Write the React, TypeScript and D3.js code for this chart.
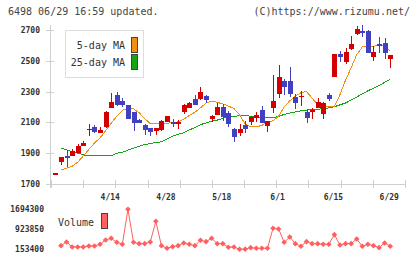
import React from 'react';
import * as d3 from 'd3';

// trading days, 2020-03-31 .. 2020-06-29
const dates = [
  '3/31', '4/1', '4/2', '4/3', '4/6', '4/7', '4/8', '4/9', '4/10', '4/13',
  '4/14', '4/15', '4/16', '4/17', '4/20', '4/21', '4/22', '4/23', '4/24', '4/27',
  '4/28', '4/30', '5/1', '5/7', '5/8', '5/11', '5/12', '5/13', '5/14', '5/15',
  '5/18', '5/19', '5/20', '5/21', '5/22', '5/25', '5/26', '5/27', '5/28', '5/29',
  '6/1', '6/2', '6/3', '6/4', '6/5', '6/8', '6/9', '6/10', '6/11', '6/12',
  '6/15', '6/16', '6/17', '6/18', '6/19', '6/22', '6/23', '6/24', '6/25', '6/26',
  '6/29',
];

const open = [
  1771, 1845, 1882, 1880, 1903, 1949, 2055, 2070, 2033, 2072,
  2196, 2278, 2239, 2213, 2166, 2115, 2080, 2062, 2046, 2051,
  2105, 2100, 2097, 2170, 2196, 2252, 2252, 2274, 2124, 2148,
  2200, 2159, 2057, 2033, 2083, 2105, 2130, 2181, 2079, 2191,
  2282, 2369, 2369, 2265, 2268, 2166, 2172, 2191, 2157, 2278,
  2397, 2544, 2494, 2577, 2674, 2695, 2694, 2527, 2609, 2616,
  2514,
];
const high = [
  1771, 1875, 1920, 1925, 1960, 1981, 2090, 2083, 2072, 2175,
  2290, 2300, 2256, 2215, 2170, 2120, 2090, 2065, 2062, 2116,
  2142, 2120, 2116, 2221, 2230, 2278, 2332, 2280, 2150, 2224,
  2217, 2172, 2066, 2090, 2109, 2140, 2166, 2207, 2110, 2408,
  2473, 2382, 2460, 2282, 2304, 2187, 2196, 2256, 2235, 2291,
  2544, 2564, 2581, 2661, 2726, 2732, 2700, 2596, 2652, 2646,
  2538,
];
const low = [
  1771, 1823, 1810, 1880, 1903, 1949, 2010, 2033, 2033, 2066,
  2196, 2208, 2202, 2120, 2045, 2095, 2018, 2010, 2018, 2045,
  2100, 2072, 2060, 2153, 2196, 2210, 2243, 2224, 2105, 2145,
  2111, 2072, 1975, 2014, 2033, 2083, 2101, 2095, 2040, 2163,
  2256, 2278, 2265, 2189, 2207, 2098, 2122, 2191, 2124, 2241,
  2397, 2494, 2481, 2570, 2668, 2657, 2553, 2501, 2548, 2514,
  2455,
];
const close = [
  1771, 1875, 1872, 1914, 1945, 1967, 2060, 2035, 2050, 2166,
  2230, 2213, 2213, 2122, 2098, 2098, 2050, 2040, 2062, 2106,
  2142, 2092, 2100, 2213, 2224, 2213, 2295, 2248, 2144, 2200,
  2133, 2090, 2005, 2057, 2060, 2135, 2148, 2098, 2109, 2239,
  2395, 2332, 2282, 2228, 2272, 2131, 2180, 2230, 2224, 2252,
  2544, 2527, 2555, 2609, 2706, 2679, 2553, 2559, 2597, 2548,
  2538,
];

const ma5 = [
  null, 1792, 1802, 1815, 1842, 1882, 1925, 1965, 2000, 2045,
  2095, 2140, 2178, 2192, 2188, 2163, 2125, 2092, 2090, 2094,
  2094, 2100, 2103, 2121, 2145, 2166, 2195, 2226, 2239, 2230,
  2220, 2206, 2190, 2150, 2090, 2072, 2072, 2080, 2105, 2110,
  2140, 2200, 2240, 2271, 2293, 2300, 2258, 2215, 2206, 2206,
  2206, 2280, 2375, 2455, 2540, 2590, 2592, 2595, 2598, 2598,
  2562,
];
const ma25 = [
  null, 1932, 1923, 1908, 1900, 1890, 1882, 1882, 1882, 1882,
  1882, 1900, 1906, 1920, 1932, 1945, 1956, 1963, 1970, 1974,
  1992, 2010, 2023, 2032, 2052, 2065, 2085, 2097, 2108, 2115,
  2126, 2136, 2140, 2143, 2144, 2140, 2136, 2132, 2130, 2131,
  2138, 2152, 2160, 2168, 2175, 2180, 2184, 2186, 2188, 2195,
  2202, 2214, 2226, 2245, 2265, 2285, 2305, 2322, 2340, 2360,
  2380,
];

const volume = [
  null, 294700, 435900, 243300, 243300, 243300, 281800, 281800, 346000, 512900,
  577200, 423100, 346000, 1694300, 423100, 371700, 371700, 435900, 1232000, 294700,
  191900, 256100, 294700, 397400, 346000, 294700, 500100, 448700, 577200, 371700,
  371700, 230400, 243300, 153400, 160000, 217600, 191900, 191900, 191900, 962400,
  936700, 423100, 628500, 371700, 269000, 448700, 371700, 371700, 346000, 346000,
  718400, 320300, 371700, 371700, 551500, 269000, 346000, 294700, 217600, 397400,
  269000,
];

const priceTicks = [1700, 1900, 2100, 2300, 2500, 2700];
const volumeTicks = [153400, 923850, 1694300];
const dateTicks = ['4/14', '4/28', '5/18', '6/1', '6/15', '6/29'];

const UP = '#d40000';
const DOWN = '#4040c0';
const MA5_COLOR = '#f0900f';
const MA25_COLOR = '#14a514';
const VOL_COLOR = '#ff5f5f';
const AXIS = '#cfcfcf';
const MONO = '"DejaVu Sans Mono", monospace';

export default function App() {
  const x = d3.scalePoint<string>().domain(dates).range([55.4, 390.2]);
  const y = d3.scaleLinear().domain([1700, 2700]).range([184, 30]);
  const [vmin, vmax] = d3.extent(volume.filter((v) => v != null) as number[]) as [number, number];
  const vy = d3.scaleLinear().domain([vmin, vmax]).range([249.3, 209.3]);

  const px = (i: number) => x(dates[i]) as number;

  const maLine = d3
    .line<number | null>()
    .defined((d) => d != null)
    .x((_, i) => px(i))
    .y((d) => y(d as number));

  const volLine = d3
    .line<number | null>()
    .defined((d) => d != null)
    .x((_, i) => px(i))
    .y((d) => vy(d as number));

  // evenly spaced tick marks along the time axis
  const xTickPos = d3.range(12).map((k) => 51 + (k * 354) / 11);

  const bodyW = 5;
  const diamond = d3.symbol(d3.symbolDiamond2, 20)() || '';

  return (
    <svg
      width={420}
      height={259}
      style={{ position: 'absolute', left: 0, top: 0, background: '#fff' }}
      fontFamily={MONO}
    >
      <text x={8} y={15} fontSize={10} fill="#444">
        6498 06/29 16:59 updated.
      </text>
      <text x={410} y={15} fontSize={10} fill="#444" textAnchor="end">
        (C)https://www.rizumu.net/
      </text>

      {/* axes */}
      <g stroke={AXIS} strokeWidth={1} shapeRendering="crispEdges">
        <line x1={50.5} x2={50.5} y1={25} y2={188} />
        <line x1={46} x2={405} y1={184.5} y2={184.5} />
        {priceTicks.map((t) => (
          <line key={t} x1={46} x2={54} y1={Math.round(y(t)) + 0.5} y2={Math.round(y(t)) + 0.5} />
        ))}
        {xTickPos.map((p, k) => (
          <line key={k} x1={Math.round(p) + 0.5} x2={Math.round(p) + 0.5} y1={180} y2={188} />
        ))}
      </g>
      {priceTicks.map((t) => (
        <text key={t} x={40} y={y(t) + 3} fontSize={8} fontWeight="bold" fill="#333" textAnchor="end">
          {t}
        </text>
      ))}

      {/* legend */}
      <rect x={65.5} y={30.5} width={78} height={47} fill="#fff" stroke="#ddd" shapeRendering="crispEdges" />
      <text x={125} y={49} fontSize={10} fill="#333" textAnchor="end">5-day MA</text>
      <text x={125} y={65.5} fontSize={10} fill="#333" textAnchor="end">25-day MA</text>
      <rect x={131.5} y={37.5} width={6} height={15} fill={MA5_COLOR} stroke="#444" shapeRendering="crispEdges" />
      <rect x={131.5} y={54.5} width={6} height={15} fill={MA25_COLOR} stroke="#444" shapeRendering="crispEdges" />

      {/* moving averages */}
      <path d={maLine(ma25) || ''} fill="none" stroke={MA25_COLOR} strokeWidth={1} shapeRendering="crispEdges" />
      <path d={maLine(ma5) || ''} fill="none" stroke={MA5_COLOR} strokeWidth={1} shapeRendering="crispEdges" />

      {/* candles */}
      <g shapeRendering="crispEdges">
        {dates.map((d, i) => {
          const o = open[i];
          const c = close[i];
          const col = c >= o ? UP : DOWN;
          const cx = Math.round(px(i));
          const top = y(Math.max(o, c));
          const bot = y(Math.min(o, c));
          return (
            <g key={d}>
              <line x1={cx + 0.5} x2={cx + 0.5} y1={y(high[i])} y2={y(low[i])} stroke={col} strokeWidth={1} />
              <rect x={cx - 2} y={top} width={bodyW} height={Math.max(1.5, bot - top)} fill={col} />
            </g>
          );
        })}
      </g>

      {/* date labels */}
      {dateTicks.map((d) => (
        <text key={d} x={(x(d) as number) - 1} y={200} fontSize={8} fontWeight="bold" fill="#333" textAnchor="middle">
          {d}
        </text>
      ))}

      {/* volume panel */}
      {volumeTicks.map((t) => (
        <text key={t} x={44} y={vy(t) + 2.5} fontSize={8} fontWeight="bold" fill="#333" textAnchor="end">
          {t}
        </text>
      ))}
      <text x={58} y={226} fontSize={10} fill="#333">Volume</text>
      <rect x={101.5} y={213.5} width={6} height={15} fill={VOL_COLOR} stroke="#444" shapeRendering="crispEdges" />

      <path d={volLine(volume) || ''} fill="none" stroke={VOL_COLOR} strokeWidth={1} />
      {volume.map((v, i) =>
        v == null ? null : (
          <path key={i} d={diamond} transform={`translate(${px(i)},${vy(v)})`} fill={VOL_COLOR} />
        ),
      )}
    </svg>
  );
}
